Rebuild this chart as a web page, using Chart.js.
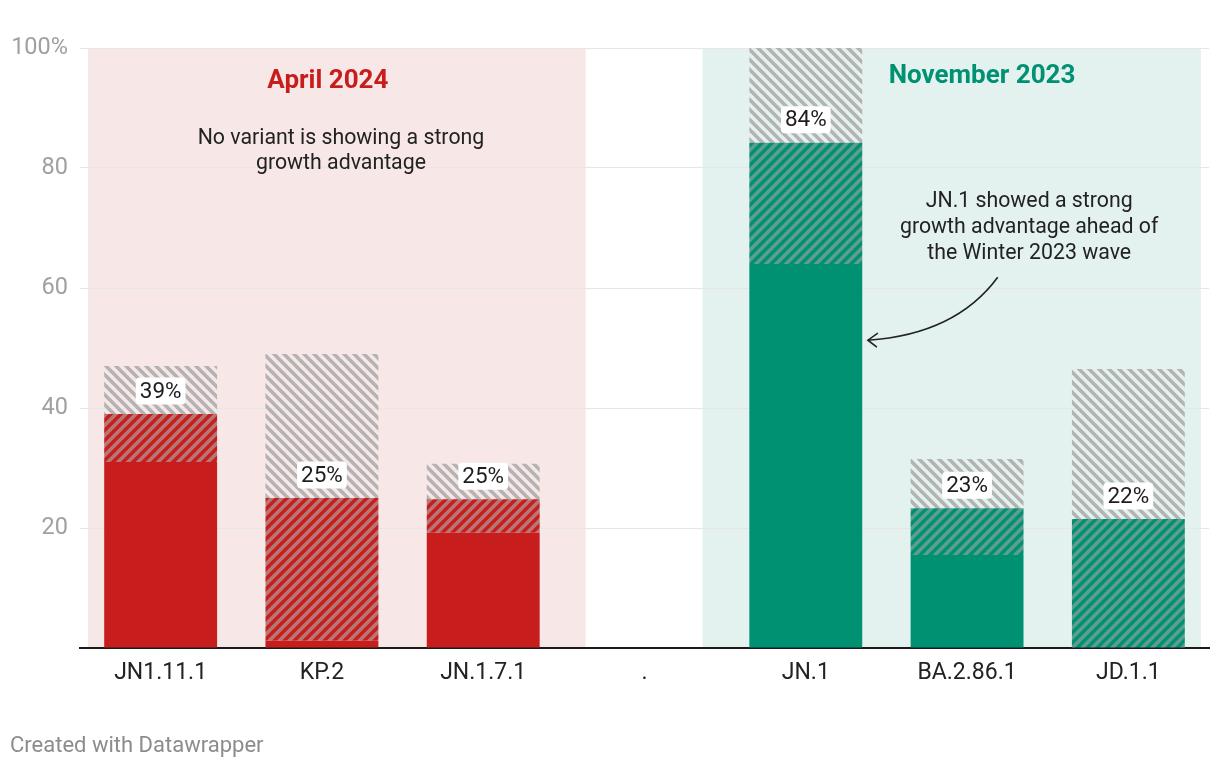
<!DOCTYPE html>
<html>
<head>
<meta charset="utf-8">
<script src="https://cdn.jsdelivr.net/npm/chart.js@4"></script>
<style>
  html, body { margin: 0; padding: 0; background: #ffffff; }
  #wrap { position: relative; width: 1220px; height: 768px; }
  canvas { display: block; }
</style>
</head>
<body>
<div id="wrap"><canvas id="c" width="1220" height="768"></canvas></div>
<script>
// ---- data ----
const categories = ['JN1.11.1', 'KP.2', 'JN.1.7.1', '.', 'JN.1', 'BA.2.86.1', 'JD.1.1'];
const solidPart  = [31, 1.2, 19.2, null, 64, 15.5, 0];
const hatchPart  = [8, 23.8, 5.6, null, 20.2, 7.8, 21.5];
const grayPart   = [8, 24, 5.9, null, 15.8, 8.2, 25];
const valueLabels = ['39%', '25%', '25%', '', '84%', '23%', '22%'];
const groupOf    = ['apr', 'apr', 'apr', null, 'nov', 'nov', 'nov'];
const yTicks = [0, 20, 40, 60, 80, 100];

const RED = '#c71e1d', GREEN = '#009173';
const RED_BG = '#f7e7e7', GREEN_BG = '#e4f2ef';

function pattern(bg, stripe, dir) {
  const s = 10;
  const c = document.createElement('canvas');
  c.width = s; c.height = s;
  const g = c.getContext('2d');
  if (bg) { g.fillStyle = bg; g.fillRect(0, 0, s, s); }
  g.strokeStyle = stripe; g.lineWidth = 3.6; g.lineCap = 'square';
  for (let k = -1; k <= 1; k++) {
    g.beginPath();
    if (dir === '/') { g.moveTo(k * s, s); g.lineTo(k * s + s, 0); }
    else { g.moveTo(k * s, 0); g.lineTo(k * s + s, s); }
    g.stroke();
  }
  return g.createPattern(c, 'repeat');
}
const redHatch = pattern(RED, '#b77777', '/');
const greenHatch = pattern(GREEN, '#5f9d8f', '/');
const grayHatch = pattern(null, '#b3b3b3', '\\');

const solidColors = groupOf.map(g => g === 'apr' ? RED : GREEN);
const hatchColors = groupOf.map(g => g === 'apr' ? redHatch : greenHatch);

const FONT = 'Roboto, "Noto Sans", sans-serif';

const bandsPlugin = {
  id: 'bands',
  beforeDraw(chart) {
    const { ctx, chartArea: a, scales: { x } } = chart;
    ctx.save();
    const bands = [[-0.45, 2.635, RED_BG], [3.36, 6.45, GREEN_BG]];
    for (const [f, t, col] of bands) {
      const x1 = x.getPixelForValue(f), x2 = x.getPixelForValue(t);
      ctx.fillStyle = col;
      ctx.fillRect(x1, a.top, x2 - x1, a.bottom - a.top);
    }
    ctx.restore();
  }
};

const notesPlugin = {
  id: 'notes',
  afterDatasetsDraw(chart) {
    const { ctx, scales: { x, y } } = chart;
    ctx.save();
    // value labels
    ctx.font = '22.5px ' + FONT;
    ctx.textAlign = 'center'; ctx.textBaseline = 'middle';
    categories.forEach((c, i) => {
      if (!valueLabels[i]) return;
      const px = x.getPixelForValue(i);
      const py = y.getPixelForValue((solidPart[i] || 0) + hatchPart[i]) - 23;
      const w = ctx.measureText(valueLabels[i]).width + 8, h = 27;
      ctx.fillStyle = '#ffffff';
      ctx.beginPath();
      ctx.roundRect(px - w / 2, py - h / 2, w, h, 4);
      ctx.fill();
      ctx.fillStyle = '#1d1d1d';
      ctx.fillText(valueLabels[i], px, py + 1);
    });
    // titles
    ctx.font = 'bold 26px ' + FONT;
    ctx.fillStyle = RED;
    ctx.fillText('April 2024', x.getPixelForValue(1.037), y.getPixelForValue(94.4));
    ctx.fillStyle = GREEN;
    ctx.fillText('November 2023', x.getPixelForValue(5.093), y.getPixelForValue(95.2));
    // annotations
    ctx.font = '21.3px ' + FONT;
    ctx.fillStyle = '#222222';
    ctx.fillText('No variant is showing a strong', x.getPixelForValue(1.118), y.getPixelForValue(84.85));
    ctx.fillText('growth advantage', x.getPixelForValue(1.118), y.getPixelForValue(80.7));
    const ax = x.getPixelForValue(5.385);
    ctx.fillText('JN.1 showed a strong', ax, y.getPixelForValue(74.4));
    ctx.fillText('growth advantage ahead of', ax, y.getPixelForValue(70.05));
    ctx.fillText('the Winter 2023 wave', ax, y.getPixelForValue(65.7));
    // arrow
    const sx = x.getPixelForValue(5.19), sy = y.getPixelForValue(61.8);
    const cx = x.getPixelForValue(4.93), cy = y.getPixelForValue(52.3);
    const ex = x.getPixelForValue(4.385), ey = y.getPixelForValue(51.3);
    ctx.strokeStyle = '#222222'; ctx.lineWidth = 1.6;
    ctx.beginPath(); ctx.moveTo(sx, sy); ctx.quadraticCurveTo(cx, cy, ex, ey); ctx.stroke();
    ctx.beginPath();
    ctx.moveTo(ex + 10, ey - 7); ctx.lineTo(ex, ey); ctx.lineTo(ex + 9, ey + 7);
    ctx.stroke();
    ctx.restore();
  },
  afterDraw(chart) {
    const { ctx } = chart;
    ctx.save();
    ctx.font = '22px ' + FONT;
    ctx.fillStyle = '#8c8c8c';
    ctx.textAlign = 'left'; ctx.textBaseline = 'middle';
    ctx.fillText('Created with Datawrapper', 10, 746);
    ctx.restore();
  }
};

new Chart(document.getElementById('c'), {
  type: 'bar',
  data: {
    labels: categories,
    datasets: [
      { label: 'solid', data: solidPart, backgroundColor: solidColors },
      { label: 'hatch', data: hatchPart, backgroundColor: hatchColors },
      { label: 'gray', data: grayPart, backgroundColor: grayHatch }
    ]
  },
  options: {
    responsive: false,
    animation: false,
    layout: { padding: { top: 48, right: 11, left: 0, bottom: 0 } },
    plugins: { legend: { display: false }, tooltip: { enabled: false } },
    datasets: { bar: { barPercentage: 0.7, categoryPercentage: 1.0, borderWidth: 0 } },
    scales: {
      x: {
        stacked: true,
        grid: { display: false, drawTicks: false },
        border: { display: true, color: '#1a1a1a', width: 2 },
        ticks: { color: '#222222', font: { family: FONT, size: 23 }, padding: 11, maxRotation: 0, autoSkip: false },
        afterFit(s) { s.height = 120; }
      },
      y: {
        stacked: true,
        min: 0, max: 100,
        afterBuildTicks(s) { s.ticks = yTicks.map(v => ({ value: v })); },
        grid: { color: '#e6e6e6', lineWidth: 1, drawTicks: false },
        border: { display: false },
        ticks: {
          color: '#a0a0a0', font: { family: FONT, size: 23.5 }, padding: 12,
          callback: v => v === 0 ? '' : (v === 100 ? '100%' : String(v))
        },
        afterFit(s) { s.width = 80; }
      }
    }
  },
  plugins: [bandsPlugin, notesPlugin]
});
</script>
</body>
</html>
